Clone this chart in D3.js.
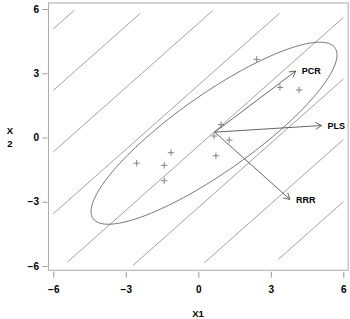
<!DOCTYPE html>
<html>
<head>
<meta charset="utf-8">
<script src="https://cdnjs.cloudflare.com/ajax/libs/d3/7.8.5/d3.min.js"></script>
<style>
  body { margin: 0; background: #fff; }
  text { font-family: "Liberation Sans", Arial, Helvetica, sans-serif; }
</style>
</head>
<body>
<svg width="350" height="319"></svg>
<script>
// tick values
var xTicks = [-6, -3, 0, 3, 6],
    yTicks = [-6, -3, 0, 3, 6];

// parallel contour lines y = x + c, each with its visible x range
var lineIntercepts = [11.07, 8.2, 5.33, 2.44, -0.4, -3.27, -6.1, -9.0],
    lineStartX = [-6.0, -6.0, -6.0, -6.0, -5.42, -2.7, 0.25, 3.31],
    lineEndX = [-5.12, -2.4, 0.6, 3.36, 6.0, 6.0, 6.0, 6.0];

// observations
var pointX = [-2.55, -1.41, -1.13, -1.41, 0.73, 0.94, 1.28, 0.65, 2.42, 3.38, 4.17],
    pointY = [-1.2, -1.3, -0.71, -2.02, -0.85, 0.6, -0.12, 0.07, 3.65, 2.34, 2.22];

// direction arrows
var arrowOrigin = [0.68, 0.25],
    arrowNames = ["PCR", "PLS", "RRR"],
    arrowTipX = [4.03, 5.1, 3.79],
    arrowTipY = [3.1, 0.56, -2.89];

// ellipse: centre and shape matrix
var ellipseCenter = [0.65, 0.2],
    ellipseCov = [[25.9, 18.6], [18.6, 18.06]];

var svg = d3.select("svg");

var x = d3.scaleLinear().domain([-6, 6]).range([53.3, 343.3]),
    y = d3.scaleLinear().domain([-6, 6]).range([266, 9]);

// plot box
var bx0 = x(-6.2), bx1 = x(6.2), by0 = y(6.28), by1 = y(-6.2);
svg.append("rect")
    .attr("x", bx0).attr("y", by0)
    .attr("width", bx1 - bx0).attr("height", by1 - by0)
    .attr("fill", "none").attr("stroke", "#aaa").attr("stroke-width", 1);

// axes
var gx = svg.append("g")
    .attr("transform", "translate(0," + (by1 + 1.5) + ")")
    .call(d3.axisBottom(x).tickValues(xTicks).tickSize(6).tickPadding(8));
var gy = svg.append("g")
    .attr("transform", "translate(" + (bx0 - 1) + ",0)")
    .call(d3.axisLeft(y).tickValues(yTicks).tickSize(5).tickPadding(3.5));
[gx, gy].forEach(function(g) {
  g.select(".domain").remove();
  g.selectAll(".tick line").attr("stroke", "#999");
  g.selectAll(".tick text")
      .attr("fill", "#000")
      .attr("font-size", 10)
      .attr("font-weight", "bold")
      .style("font-family", "'Liberation Sans', Arial, sans-serif");
});

// axis titles
svg.append("text")
    .attr("x", 198).attr("y", 317)
    .attr("text-anchor", "middle")
    .attr("font-size", 9.5).attr("font-weight", "bold")
    .text("X1");
svg.append("text")
    .attr("x", 10).attr("y", 134)
    .attr("text-anchor", "middle")
    .attr("font-size", 9.5).attr("font-weight", "bold")
    .text("X");
svg.append("text")
    .attr("x", 10).attr("y", 147)
    .attr("text-anchor", "middle")
    .attr("font-size", 9.5).attr("font-weight", "bold")
    .text("2");

// contour lines
svg.selectAll(".cline")
  .data(lineIntercepts)
  .enter().append("line")
    .attr("class", "cline")
    .attr("x1", function(c, i) { return x(lineStartX[i]); })
    .attr("y1", function(c, i) { return y(lineStartX[i] + c); })
    .attr("x2", function(c, i) { return x(lineEndX[i]); })
    .attr("y2", function(c, i) { return y(lineEndX[i] + c); })
    .attr("stroke", "#8a8a8a")
    .attr("stroke-width", 0.8);

// ellipse
var l11 = Math.sqrt(ellipseCov[0][0]),
    l21 = ellipseCov[1][0] / l11,
    l22 = Math.sqrt(ellipseCov[1][1] - l21 * l21);
var ell = d3.range(0, 200).map(function(k) {
  var t = k / 200 * 2 * Math.PI;
  return [ellipseCenter[0] + l11 * Math.cos(t),
          ellipseCenter[1] + l21 * Math.cos(t) + l22 * Math.sin(t)];
});
svg.append("path")
    .attr("d", d3.line().x(function(p) { return x(p[0]); })
                        .y(function(p) { return y(p[1]); })
                        .curve(d3.curveLinearClosed)(ell))
    .attr("fill", "none")
    .attr("stroke", "#666")
    .attr("stroke-width", 0.9);

// plus marks
svg.selectAll(".pt")
  .data(pointX)
  .enter().append("path")
    .attr("class", "pt")
    .attr("d", function(d, i) {
      var px = x(d), py = y(pointY[i]), r = 3.2;
      return "M" + (px - r) + "," + py + "H" + (px + r) +
             "M" + px + "," + (py - r) + "V" + (py + r);
    })
    .attr("stroke", "#777")
    .attr("stroke-width", 0.9);

// arrows
var ox = x(arrowOrigin[0]), oy = y(arrowOrigin[1]);
arrowNames.forEach(function(name, i) {
  var tx = x(arrowTipX[i]), ty = y(arrowTipY[i]);
  var ang = Math.atan2(ty - oy, tx - ox), len = 7, spread = Math.PI / 6;
  var h1 = [tx - len * Math.cos(ang - spread), ty - len * Math.sin(ang - spread)],
      h2 = [tx - len * Math.cos(ang + spread), ty - len * Math.sin(ang + spread)];
  svg.append("path")
      .attr("d", "M" + ox + "," + oy + "L" + tx + "," + ty +
                 "M" + h1[0] + "," + h1[1] + "L" + tx + "," + ty + "L" + h2[0] + "," + h2[1])
      .attr("fill", "none")
      .attr("stroke", "#555")
      .attr("stroke-width", 0.9);
  svg.append("text")
      .attr("x", tx + 6).attr("y", ty)
      .attr("dy", "0.35em")
      .attr("font-size", 9).attr("font-weight", "bold")
      .text(name);
});
</script>
</body>
</html>
